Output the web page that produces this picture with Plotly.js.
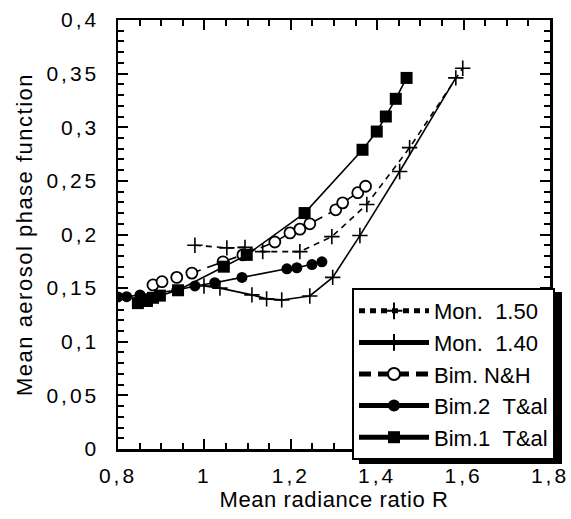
<!DOCTYPE html>
<html>
<head>
<meta charset="utf-8">
<script src="https://cdn.plot.ly/plotly-3.0.1.min.js"></script>
<style>
html,body{margin:0;padding:0;background:#fff;}
#chart{width:571px;height:519px;}
.xtick text, .ytick text {letter-spacing: 3px;}
.ytitle {letter-spacing: 1.5px;}
.xtitle {letter-spacing: 0.6px;}
</style>
</head>
<body>
<div id="chart"></div>
<script>
// Mon. 1.50
const mon150X = [0.978, 1.052, 1.094, 1.135, 1.221, 1.295, 1.376, 1.475, 1.598];
const mon150Y = [0.190, 0.1875, 0.188, 0.184, 0.184, 0.198, 0.228, 0.281, 0.355];
// Mon. 1.40
const mon140X = [0.999, 1.036, 1.110, 1.144, 1.179, 1.244, 1.297, 1.360, 1.452, 1.582];
const mon140Y = [0.152, 0.150, 0.1437, 0.140, 0.139, 0.1427, 0.160, 0.199, 0.2587, 0.346];
// Bim. N&H
const nhX = [0.881, 0.902, 0.936, 0.971, 1.043, 1.089, 1.163, 1.198, 1.221, 1.244, 1.304, 1.320, 1.355, 1.373];
const nhY = [0.153, 0.156, 0.160, 0.164, 0.1745, 0.181, 0.193, 0.2015, 0.205, 0.210, 0.223, 0.2295, 0.239, 0.245];
// Bim.2 T&al
const b2X = [0.800, 0.820, 0.851, 0.936, 0.978, 1.024, 1.087, 1.191, 1.214, 1.249, 1.272];
const b2Y = [0.1418, 0.142, 0.1437, 0.148, 0.152, 0.155, 0.160, 0.168, 0.169, 0.172, 0.1745];
// Bim.1 T&al
const b1X = [0.846, 0.867, 0.881, 0.897, 0.939, 1.045, 1.098, 1.232, 1.366, 1.399, 1.420, 1.443, 1.468];
const b1Y = [0.136, 0.138, 0.141, 0.143, 0.148, 0.170, 0.181, 0.220, 0.279, 0.296, 0.310, 0.3265, 0.346];

const names = ['Mon.\u00a0\u00a01.50', 'Mon.\u00a0\u00a01.40', 'Bim.\u00a0N&H', 'Bim.2\u00a0\u00a0T&al', 'Bim.1\u00a0\u00a0T&al'];
const xTickVals = [0.8, 1.0, 1.2, 1.4, 1.6, 1.8];
const yTickVals = [0, 0.05, 0.1, 0.15, 0.2, 0.25, 0.3, 0.35, 0.4];

const black = '#000';
const traces = [
  {x: mon150X, y: mon150Y, name: names[0], mode: 'lines+markers',
   line: {color: black, width: 1.6, dash: '6px,5px'},
   marker: {symbol: 'cross-thin-open', size: 11, line: {color: black, width: 1.6}, color: black}},
  {x: mon140X, y: mon140Y, name: names[1], mode: 'lines+markers',
   line: {color: black, width: 1.6},
   marker: {symbol: 'cross-thin-open', size: 11, line: {color: black, width: 1.6}, color: black}},
  {x: nhX, y: nhY, name: names[2], mode: 'lines+markers',
   line: {color: black, width: 1.6, dash: '12px,7px'},
   marker: {symbol: 'circle', size: 11, color: '#fff', line: {color: black, width: 1.8}}},
  {x: b2X, y: b2Y, name: names[3], mode: 'lines+markers',
   line: {color: black, width: 1.6},
   marker: {symbol: 'circle', size: 11, color: black}},
  {x: b1X, y: b1Y, name: names[4], mode: 'lines+markers',
   line: {color: black, width: 1.6},
   marker: {symbol: 'square', size: 12, color: black}}
];

const fam = 'Liberation Sans, Arial, sans-serif';
const tickFont = {family: fam, size: 21, color: black};
const axisCommon = {
  showgrid: false, zeroline: false, showline: true, linecolor: black, linewidth: 2.5,
  mirror: 'allticks', ticks: 'inside', ticklen: 10, tickwidth: 2, tickcolor: black,
  tickfont: tickFont
};

const pw = 432, ph = 429;
const legX = (352 - 118) / pw, legY = (449 - 288) / ph;
const estW = 205, estH = 170;
function shadow(w, h) {
  return {type: 'rect', xref: 'paper', yref: 'paper', layer: 'above',
    x0: legX + 7 / pw, x1: legX + (w + 7) / pw,
    y0: legY - (h + 4) / ph, y1: legY - 4 / ph,
    fillcolor: black, line: {width: 0}};
}

const layout = {
  width: 571, height: 519,
  margin: {l: 118, r: 21, t: 20, b: 70},
  paper_bgcolor: '#fff', plot_bgcolor: '#fff',
  separators: ', ',
  showlegend: true,
  xaxis: Object.assign({}, axisCommon, {
    range: [0.8, 1.8], tickvals: xTickVals, ticklabelstandoff: 6,
    minor: {dtick: 0.05, tick0: 0.8, ticks: 'inside', ticklen: 6, tickwidth: 2, tickcolor: black},
    title: {text: 'Mean radiance ratio R', font: {family: fam, size: 22, color: black}, standoff: 0}
  }),
  yaxis: Object.assign({}, axisCommon, {
    range: [0, 0.4], tickvals: yTickVals, ticklabelstandoff: 12,
    minor: {dtick: 0.01, tick0: 0, ticks: 'inside', ticklen: 6, tickwidth: 2, tickcolor: black},
    title: {text: 'Mean aerosol phase function', font: {family: fam, size: 22, color: black}, standoff: 8}
  }),
  legend: {
    x: legX, y: legY, xanchor: 'left', yanchor: 'top',
    bgcolor: '#fff', bordercolor: black, borderwidth: 2,
    font: {family: fam, size: 22, color: black},
    itemsizing: 'constant', tracegroupgap: 0, itemwidth: 70
  },
  shapes: [shadow(estW, estH)]
};

const gd = document.getElementById('chart');
Plotly.newPlot(gd, traces, layout, {staticPlot: true, displayModeBar: false}).then(function () {
  const leg = gd._fullLayout.legend || {};
  if (leg._width && leg._height) {
    return Plotly.relayout(gd, {shapes: [shadow(leg._width, leg._height)]});
  }
});
</script>
</body>
</html>
